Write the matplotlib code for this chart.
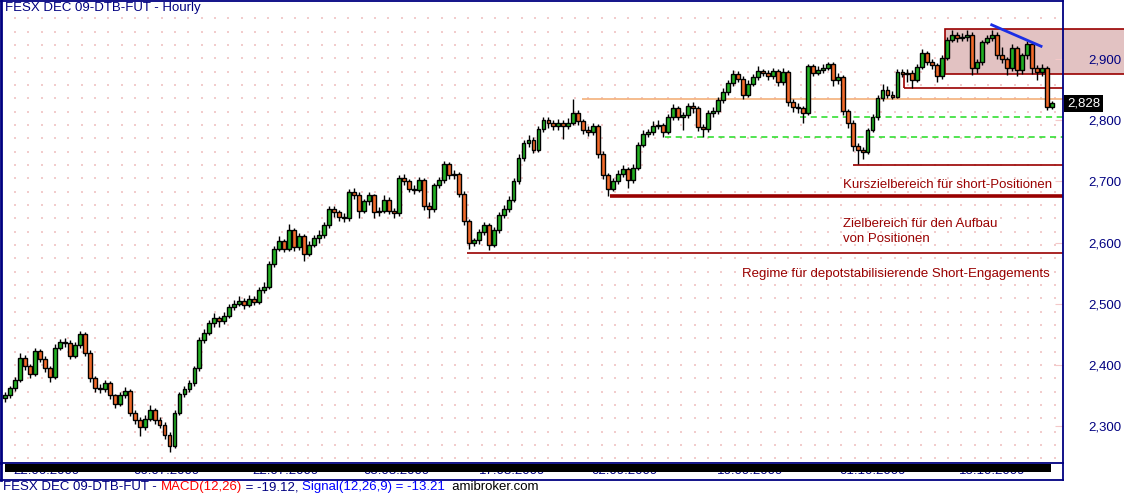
import matplotlib
matplotlib.use("Agg")
import matplotlib.pyplot as plt
from matplotlib.patches import Rectangle
from matplotlib.lines import Line2D
from matplotlib.transforms import blended_transform_factory
import numpy as np

# Stundenkerzen FESX DEC 09
opens = [2345, 2350, 2362, 2375, 2412, 2398, 2385, 2422, 2410, 2395,
         2380, 2428, 2437, 2436, 2415, 2432, 2450, 2420, 2378, 2362,
         2360, 2370, 2350, 2336, 2350, 2357, 2322, 2310, 2298, 2312,
         2326, 2310, 2302, 2285, 2268, 2322, 2352, 2360, 2370, 2395,
         2440, 2452, 2468, 2476, 2472, 2480, 2494, 2500, 2505, 2498,
         2508, 2503, 2522, 2528, 2565, 2590, 2602, 2590, 2620, 2592,
         2610, 2582, 2596, 2607, 2612, 2628, 2655, 2650, 2642, 2640,
         2682, 2678, 2652, 2668, 2677, 2650, 2652, 2670, 2652, 2648,
         2705, 2700, 2688, 2686, 2702, 2660, 2655, 2694, 2702, 2728,
         2710, 2712, 2680, 2635, 2600, 2604, 2617, 2628, 2596, 2620,
         2645, 2655, 2670, 2700, 2738, 2762, 2768, 2752, 2785, 2800,
         2795, 2790, 2795, 2790, 2796, 2812, 2798, 2784, 2780, 2790,
         2745, 2710, 2688, 2700, 2712, 2720, 2702, 2722, 2760, 2778,
         2780, 2790, 2792, 2781, 2805, 2820, 2806, 2808, 2824, 2820,
         2789, 2785, 2812, 2815, 2833, 2846, 2861, 2876, 2868, 2842,
         2860, 2870, 2880, 2878, 2872, 2880, 2862, 2879, 2830, 2822,
         2820, 2812, 2888, 2878, 2882, 2886, 2892, 2865, 2871, 2815,
         2796, 2758, 2751, 2748, 2784, 2805, 2836, 2849, 2842, 2838,
         2879, 2876, 2878, 2866, 2887, 2910, 2896, 2890, 2872, 2902,
         2932, 2939, 2935, 2936, 2940, 2885, 2895, 2928, 2934, 2940,
         2906, 2900, 2885, 2918, 2882, 2906, 2924, 2885, 2879, 2885,
         2822]
highs = [2356, 2366, 2380, 2420, 2416, 2402, 2428, 2426, 2414, 2398,
         2434, 2442, 2444, 2440, 2437, 2456, 2453, 2424, 2382, 2368,
         2375, 2374, 2353, 2355, 2364, 2360, 2326, 2314, 2318, 2334,
         2330, 2314, 2306, 2290, 2326, 2356, 2366, 2375, 2398, 2445,
         2458, 2474, 2484, 2480, 2486, 2500, 2506, 2512, 2510, 2514,
         2512, 2528, 2536, 2570, 2594, 2610, 2606, 2630, 2624, 2616,
         2614, 2602, 2612, 2620, 2634, 2660, 2660, 2654, 2648, 2688,
         2690, 2682, 2672, 2682, 2680, 2658, 2678, 2674, 2656, 2710,
         2712, 2704, 2694, 2708, 2706, 2666, 2698, 2708, 2734, 2732,
         2718, 2716, 2684, 2638, 2608, 2622, 2634, 2632, 2626, 2650,
         2662, 2676, 2706, 2744, 2768, 2776, 2772, 2790, 2806, 2805,
         2800, 2802, 2800, 2804, 2834, 2816, 2802, 2790, 2795, 2794,
         2750, 2714, 2706, 2718, 2726, 2724, 2728, 2765, 2784, 2786,
         2798, 2800, 2796, 2810, 2826, 2824, 2814, 2828, 2830, 2824,
         2794, 2816, 2822, 2838, 2852, 2866, 2882, 2880, 2872, 2866,
         2876, 2888, 2884, 2882, 2886, 2884, 2886, 2882, 2834, 2828,
         2824, 2892, 2892, 2888, 2892, 2896, 2895, 2878, 2874, 2818,
         2800, 2762, 2756, 2788, 2810, 2842, 2860, 2856, 2848, 2884,
         2884, 2884, 2882, 2892, 2916, 2914, 2900, 2894, 2906, 2936,
         2947, 2944, 2942, 2947, 2944, 2900, 2932, 2940, 2948, 2944,
         2920, 2904, 2924, 2922, 2910, 2930, 2928, 2890, 2892, 2888,
         2831]
lows = [2340, 2346, 2358, 2372, 2392, 2378, 2382, 2404, 2388, 2372,
        2377, 2424, 2430, 2410, 2411, 2428, 2414, 2372, 2356, 2354,
        2356, 2344, 2330, 2332, 2346, 2316, 2304, 2284, 2294, 2308,
        2304, 2296, 2278, 2258, 2264, 2318, 2348, 2356, 2366, 2390,
        2436, 2448, 2462, 2462, 2466, 2476, 2490, 2496, 2492, 2494,
        2498, 2500, 2518, 2524, 2560, 2586, 2584, 2586, 2586, 2588,
        2570, 2578, 2592, 2600, 2608, 2624, 2642, 2636, 2634, 2636,
        2672, 2640, 2648, 2662, 2640, 2644, 2648, 2646, 2640, 2644,
        2694, 2682, 2680, 2682, 2654, 2640, 2650, 2690, 2698, 2704,
        2704, 2674, 2628, 2590, 2594, 2598, 2612, 2588, 2592, 2616,
        2640, 2650, 2666, 2696, 2734, 2756, 2746, 2748, 2780, 2788,
        2784, 2784, 2770, 2786, 2792, 2792, 2778, 2774, 2776, 2738,
        2704, 2676, 2684, 2696, 2708, 2690, 2698, 2718, 2756, 2772,
        2776, 2786, 2772, 2778, 2800, 2800, 2784, 2804, 2812, 2782,
        2772, 2780, 2806, 2810, 2828, 2842, 2856, 2862, 2834, 2838,
        2856, 2866, 2872, 2866, 2868, 2856, 2858, 2824, 2814, 2812,
        2796, 2808, 2872, 2874, 2878, 2882, 2856, 2860, 2808, 2788,
        2750, 2728, 2736, 2744, 2780, 2800, 2832, 2836, 2834, 2836,
        2870, 2862, 2852, 2862, 2884, 2890, 2884, 2862, 2868, 2898,
        2928, 2928, 2930, 2930, 2874, 2878, 2890, 2924, 2930, 2900,
        2894, 2874, 2880, 2872, 2876, 2900, 2876, 2866, 2872, 2816,
        2818]
closes = [2350, 2362, 2375, 2412, 2398, 2385, 2422, 2410, 2395, 2380,
          2428, 2437, 2436, 2415, 2432, 2450, 2420, 2378, 2362, 2360,
          2370, 2350, 2336, 2350, 2357, 2322, 2310, 2298, 2312, 2326,
          2310, 2302, 2285, 2268, 2322, 2352, 2360, 2370, 2395, 2440,
          2452, 2468, 2476, 2472, 2480, 2494, 2500, 2505, 2498, 2508,
          2503, 2522, 2528, 2565, 2590, 2602, 2590, 2620, 2592, 2610,
          2582, 2596, 2607, 2612, 2628, 2655, 2650, 2642, 2640, 2682,
          2678, 2652, 2668, 2677, 2650, 2652, 2670, 2652, 2648, 2705,
          2700, 2688, 2686, 2702, 2660, 2655, 2694, 2702, 2728, 2710,
          2712, 2680, 2635, 2600, 2604, 2617, 2628, 2596, 2620, 2645,
          2655, 2670, 2700, 2738, 2762, 2768, 2752, 2785, 2800, 2795,
          2790, 2795, 2790, 2796, 2812, 2798, 2784, 2780, 2790, 2745,
          2710, 2688, 2700, 2712, 2720, 2702, 2722, 2760, 2778, 2780,
          2790, 2792, 2781, 2805, 2820, 2806, 2808, 2824, 2820, 2789,
          2785, 2812, 2815, 2833, 2846, 2861, 2876, 2868, 2842, 2860,
          2870, 2880, 2878, 2872, 2880, 2862, 2879, 2830, 2822, 2820,
          2812, 2888, 2878, 2882, 2886, 2892, 2865, 2871, 2815, 2796,
          2758, 2751, 2748, 2784, 2805, 2836, 2849, 2842, 2838, 2879,
          2876, 2878, 2866, 2887, 2910, 2896, 2890, 2872, 2902, 2932,
          2939, 2935, 2936, 2940, 2885, 2895, 2928, 2934, 2940, 2906,
          2900, 2885, 2918, 2882, 2906, 2924, 2885, 2879, 2885, 2822,
          2828]

datum_labels = ["22.06.2009", "06.07.2009", "22.07.2009", "05.08.2009", "17.08.2009",
                "02.09.2009", "16.09.2009", "01.10.2009", "15.10.2009"]
datum_bars = [8.4, 32.5, 56.2, 78.6, 101.7, 124.3, 149.4, 174.1, 198.0]
y_ticks = [2300, 2400, 2500, 2600, 2700, 2800, 2900]

# Linien: Preis, Start-Kerze
rote_linien = [2852, 2727, 2583]
rote_starts = [180.3, 170.1, 92.7]
dicke_linie = 2676
dicke_start = 121.3
orange_linie = 2834
orange_start = 115.7
gruen_linien = [2805, 2772]
gruen_starts = [159.4, 132.4]
box_unten, box_oben, box_start = 2875, 2949, 188.5
trend_x = [197.9, 207.8]
trend_y = [2956, 2921]

# MACD-Fusszeile: Textteile und Farben
fuss_teile = ["FESX DEC 09-DTB-FUT - ", "MACD(12,26)", " = -19.12, ", "Signal(12,26,9) = -13.21", "  amibroker.com"]
fuss_farben = ["#000080", "#ff0000", "#000080", "#0000ff", "black"]

W, H = 1124, 493
navy = "#000080"
dunkelrot = "#990000"
plt.rcParams["font.family"] = ["Liberation Sans", "DejaVu Sans"]

def fx(px):
    return px / W

def fy(py):
    return 1 - py / H

fig = plt.figure(figsize=(W / 100, H / 100), dpi=100)
fig.patch.set_facecolor("white")
ax = fig.add_axes([fx(1), fy(463), (1063 - 1) / W, (463 - 1) / H])
ax.set_xlim(-0.8, 212.2)
ax.set_ylim(2239.5, 2995)

# Punktraster
gx = (np.arange(15, 1062, 13.33) - 1) / 1062
gy = 1 - (np.arange(18.3, 462, 13.33) - 1) / 462
GX, GY = np.meshgrid(gx, gy)
ax.scatter(GX.ravel(), GY.ravel(), s=1.3, marker="s", c="#f2cccc", linewidths=0,
           transform=ax.transAxes, zorder=0.5)

# Box oben rechts
ax.add_patch(Rectangle((box_start, box_unten), 226 - box_start, box_oben - box_unten,
                       facecolor="#e2c2c2", edgecolor=dunkelrot, lw=1.2, clip_on=False, zorder=1))

xmax = 212.2
for p, s in zip(rote_linien, rote_starts):
    ax.hlines(p, s, xmax, color=dunkelrot, lw=1.2, zorder=2)
ax.vlines(rote_starts[0], rote_linien[0], 2878, color=dunkelrot, lw=1.2, zorder=2)
ax.hlines(dicke_linie, dicke_start, xmax, color=dunkelrot, lw=2.6, zorder=2)
ax.hlines(orange_linie, orange_start, xmax, color="#f4b07a", lw=1.2, zorder=2)
for p, s in zip(gruen_linien, gruen_starts):
    ax.hlines(p, s, xmax, color="#22dd22", lw=1.1, linestyles=(0, (4, 3)), zorder=2)

# Kerzen
x = np.arange(len(closes))
o = np.array(opens)
c = np.array(closes)
farben = ["#22b022" if cc >= oo else "#f26a2a" for oo, cc in zip(o, c)]
ax.vlines(x, lows, highs, color="black", lw=1.0, zorder=3)
ax.bar(x, np.maximum(np.abs(c - o), 1.5), bottom=np.minimum(o, c), width=0.78,
       color=farben, edgecolor="black", linewidth=1.0, zorder=4)

ax.plot(trend_x, trend_y, color="#1a2ee6", lw=2, zorder=5)

# Beschriftungen
ax.text(168.1, 2694, "Kurszielbereich für short-Positionen", color=dunkelrot,
        fontsize=9.5, va="center", ha="left", zorder=6)
ax.text(168.1, 2630, "Zielbereich für den Aufbau", color=dunkelrot,
        fontsize=9.5, va="center", ha="left", zorder=6)
ax.text(168.1, 2606, "von Positionen", color=dunkelrot,
        fontsize=9.5, va="center", ha="left", zorder=6)
ax.text(147.8, 2548, "Regime für depotstabilisierende Short-Engagements", color=dunkelrot,
        fontsize=9.5, va="center", ha="left", zorder=6)

ax.text(213.0, closes[-1], f"{closes[-1]:,}", color="white", fontsize=9.5, va="center",
        ha="left", clip_on=False, zorder=7,
        bbox=dict(facecolor="black", edgecolor="none", pad=1.8))

# Achsen
ax.set_xticks([])
ax.yaxis.tick_right()
ax.set_yticks(y_ticks)
ax.set_yticklabels([f"{v:,}" for v in y_ticks])
ax.tick_params(axis="y", direction="in", length=6, color="#f4c8c8", pad=41.8,
               labelcolor=navy, labelsize=9.5)
for lbl in ax.get_yticklabels():
    lbl.set_ha("right")
for sp in ax.spines.values():
    sp.set_color(navy)
    sp.set_linewidth(1.3)
ax.spines["left"].set_linewidth(2)

fig.text(fx(5), fy(2), "FESX DEC 09-DTB-FUT - Hourly", color=navy, fontsize=9.5,
         va="top", ha="left")

# Datumsleiste
tr = blended_transform_factory(ax.transData, fig.transFigure)
for b, lab in zip(datum_bars, datum_labels):
    ax.text(b, fy(465), lab, transform=tr, color=navy, fontsize=9.5, ha="center",
            va="top", clip_on=False)
fig.add_artist(Rectangle((fx(5), fy(472)), (1051 - 5) / W, 8 / H, transform=fig.transFigure,
                         facecolor="black", edgecolor="none", zorder=5))
fig.add_artist(Line2D([0, fx(1063)], [fy(480), fy(480)], color=navy, lw=1.3, zorder=6))
fig.add_artist(Line2D([fx(1063), fx(1063)], [fy(463), fy(480)], color=navy, lw=1.3, zorder=6))
fig.add_artist(Line2D([fx(1), fx(1)], [fy(463), fy(480)], color=navy, lw=2, zorder=6))

# MACD-Zeile, Teile hintereinander gesetzt
renderer = fig.canvas.get_renderer()
pos = 3
for teil, farbe in zip(fuss_teile, fuss_farben):
    t = fig.text(fx(pos), fy(481), teil, color=farbe, fontsize=9.5, va="top")
    pos += t.get_window_extent(renderer).width

fig.savefig("out.png", dpi=100)
